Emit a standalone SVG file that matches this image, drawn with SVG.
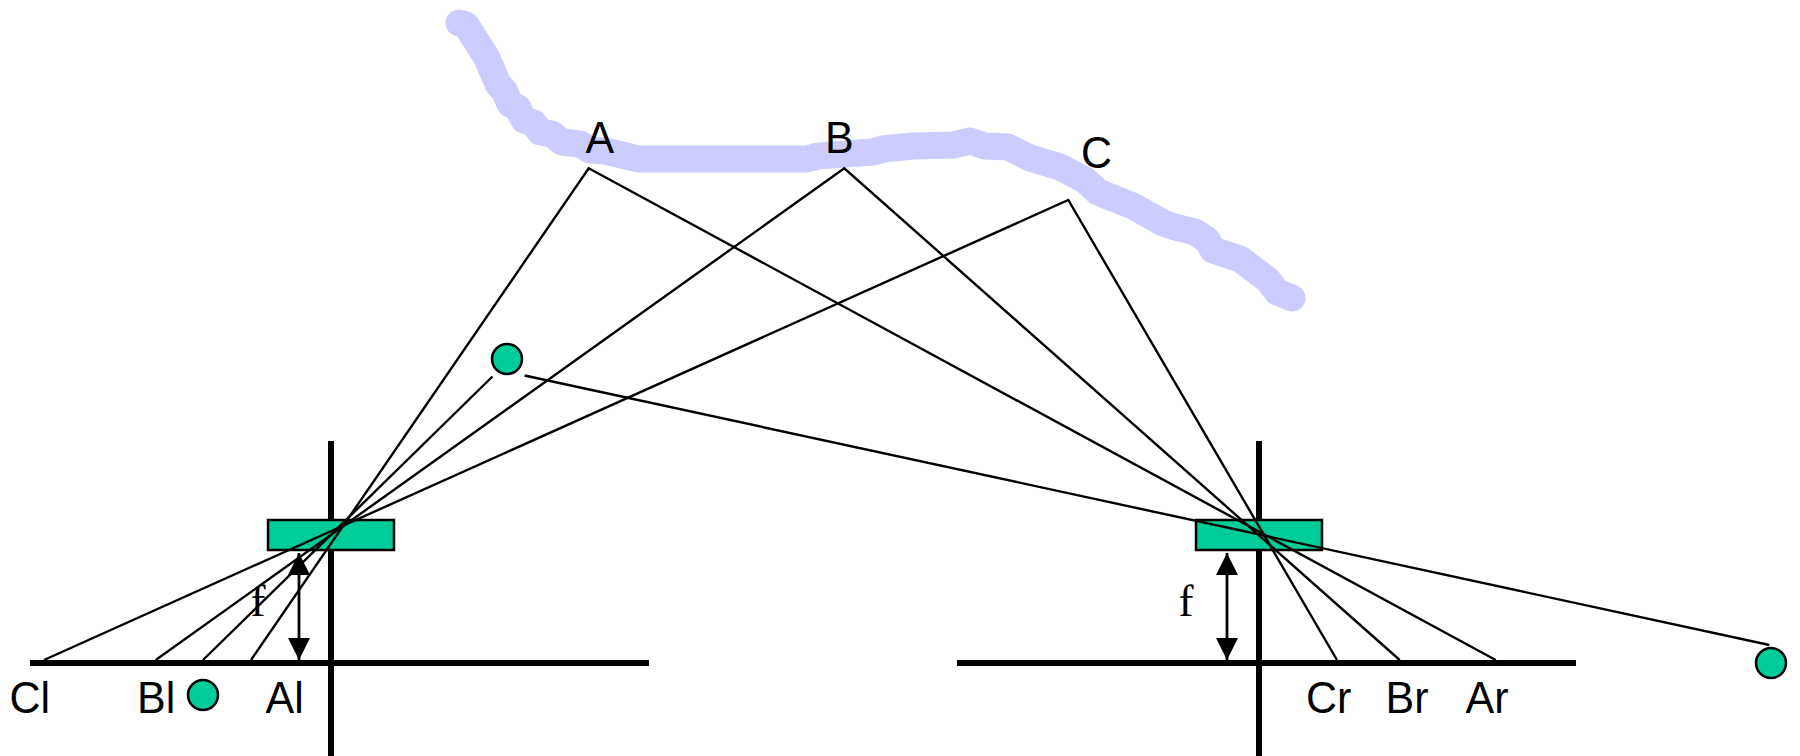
<svg xmlns="http://www.w3.org/2000/svg" width="1800" height="756" viewBox="0 0 1800 756">
<defs>
<marker id="tri" viewBox="0 0 22 22" refX="22" refY="11" markerWidth="22" markerHeight="22" markerUnits="userSpaceOnUse" orient="auto-start-reverse"><path d="M0 0L22 11L0 22Z" fill="#000"/></marker>
</defs>
<style>
.bg{fill:#fff}
.axis{stroke:#000;stroke-width:6;fill:none}
.ray{stroke:#000;stroke-width:2.4;fill:none;stroke-linejoin:miter}
.dim{stroke:#000;stroke-width:2.8;fill:none;marker-start:url(#tri);marker-end:url(#tri)}
.teal{fill:#00cc99;stroke:#000;stroke-width:2.5}
.curve{fill:none;stroke:#ccccff;stroke-width:27;stroke-linecap:round;stroke-linejoin:round}
.lbl{font-family:"Liberation Sans",Arial,sans-serif;font-size:45px;fill:#000}
.f{font-family:"Liberation Serif","Times New Roman",serif;font-size:45px;fill:#000}
</style>
<rect class="bg" width="1800" height="756"/>
<g id="surface"><path class="curve" d="M459 23L466 25L487 58L492 70L498 84L505 92L510 104L518 108L524 120L534 123L540 132L552 134L562 142L580 144L590 150L605 151L622 155L638 159L807 159L818 156L873 152L883 149L913 146L953 145L970 141L985 146L1008 147L1030 158L1060 167L1085 180L1098 192L1110 197L1133 206L1163 223L1175 227L1195 232L1207 240L1213 250L1240 259L1268 280L1277 292L1292 298"/></g>
<g id="camera-left-axes"><line class="axis" x1="331" y1="441" x2="331" y2="756"/><line class="axis" x1="30" y1="663" x2="649" y2="663"/></g>
<g id="camera-right-axes"><line class="axis" x1="1259" y1="441" x2="1259" y2="756"/><line class="axis" x1="957" y1="663" x2="1576" y2="663"/></g>
<g id="lens-left"><rect class="teal" x="268" y="520" width="126" height="30"/></g>
<g id="lens-right"><rect class="teal" x="1196" y="520" width="126" height="30"/></g>
<g id="connectors">
<path class="ray" d="M251 660L588.700 168.300L1495.700 660"/>
<path class="ray" d="M155.700 660L844.300 168.300L1399.700 660"/>
<path class="ray" d="M44 660L1068.300 200L1337 660"/>
<line class="ray" x1="492.500" y1="376.500" x2="203" y2="660"/>
<line class="ray" x1="524.600" y1="375.500" x2="1769.400" y2="645"/>
<line class="dim" x1="299" y1="553" x2="299" y2="660"/>
<line class="dim" x1="1227" y1="553" x2="1227" y2="660"/>
</g>
<g id="point-top"><circle class="teal" cx="507" cy="359" r="15"/></g>
<g id="point-left-image"><circle class="teal" cx="203" cy="695" r="15"/></g>
<g id="point-right-image"><circle class="teal" cx="1771" cy="663" r="15"/></g>
<g id="labels">
<text class="lbl" transform="translate(585.500 153) scale(.955 1)">A</text>
<text class="lbl" transform="translate(825 153) scale(.955 1)">B</text>
<text class="lbl" transform="translate(1081 168) scale(.955 1)">C</text>
<text class="lbl" transform="translate(9.500 713) scale(.955 1)">Cl</text>
<text class="lbl" transform="translate(137 713) scale(.955 1)">Bl</text>
<text class="lbl" transform="translate(265.500 713) scale(.955 1)">Al</text>
<text class="lbl" transform="translate(1306 713) scale(.955 1)">Cr</text>
<text class="lbl" transform="translate(1385.500 713) scale(.955 1)">Br</text>
<text class="lbl" transform="translate(1465.500 713) scale(.955 1)">Ar</text>
<text class="f" x="250.500" y="616">f</text>
<text class="f" x="1178.500" y="616">f</text>
</g>
</svg>
